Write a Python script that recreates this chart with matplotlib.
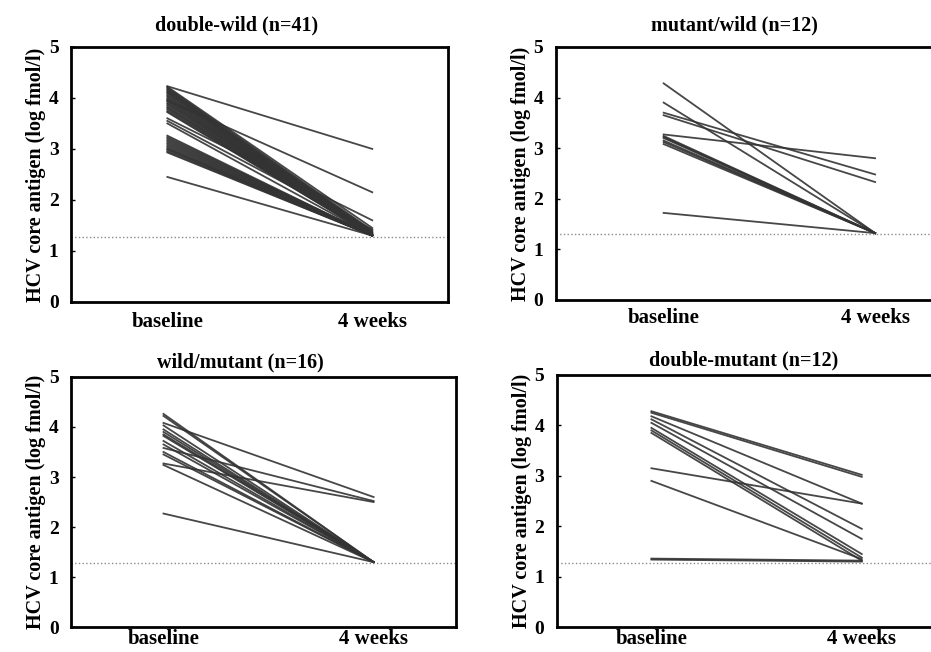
import matplotlib
matplotlib.use("Agg")
import matplotlib.pyplot as plt

plt.rcParams['font.family'] = ['Liberation Serif', 'DejaVu Serif']
plt.rcParams['font.weight'] = 'bold'

# 측정 시점
time_labels = ['baseline', '4 weeks']

# double-wild (n=41)
dw_title = 'double-wild (n=41)'
dw_base = [4.23, 4.22, 4.20, 4.18, 4.16, 4.14, 4.12, 4.10, 4.08, 4.05,
           4.03, 4.00, 3.98, 3.95, 3.93, 3.90, 3.88, 3.85, 3.82, 3.80,
           3.77, 3.74, 3.72, 3.60, 3.55, 3.50, 3.26, 3.23, 3.20, 3.17,
           3.14, 3.11, 3.08, 3.05, 3.02, 3.00, 2.98, 2.95, 2.93, 2.45, 3.95]
dw_4wk = [3.00, 1.45, 1.40, 1.38, 1.36, 1.35, 1.34, 1.33, 1.32, 1.32,
          1.31, 1.31, 1.30, 1.30, 1.30, 1.30, 1.30, 1.30, 1.30, 1.30,
          1.30, 1.30, 1.30, 1.60, 1.42, 1.30, 1.30, 1.30, 1.30, 1.30,
          1.30, 1.30, 1.30, 1.30, 1.30, 1.30, 1.30, 1.30, 1.30, 1.30, 2.15]

# mutant/wild (n=12)
mw_title = 'mutant/wild (n=12)'
mw_base = [4.28, 3.90, 3.70, 3.65, 3.27, 3.24, 3.22, 3.20, 3.15, 3.12, 3.08, 1.72]
mw_4wk = [1.32, 1.32, 2.48, 2.33, 2.80, 1.32, 1.32, 1.32, 1.32, 1.32, 1.32, 1.32]

# wild/mutant (n=16)
wm_title = 'wild/mutant (n=16)'
wm_base = [4.26, 4.22, 4.08, 4.03, 3.95, 3.90, 3.85, 3.82, 3.72, 3.65,
           3.58, 3.50, 3.45, 3.27, 3.24, 2.27]
wm_4wk = [1.30, 1.30, 2.60, 1.30, 1.30, 1.30, 1.30, 1.30, 1.30, 1.30,
          2.52, 1.30, 1.30, 2.50, 1.30, 1.30]

# double-mutant (n=12)
dm_title = 'double-mutant (n=12)'
dm_base = [4.28, 4.25, 4.18, 4.12, 4.05, 3.95, 3.90, 3.85, 3.15, 2.90, 1.36, 1.34]
dm_4wk = [3.02, 2.98, 2.45, 1.95, 1.75, 1.45, 1.38, 1.32, 2.45, 1.35, 1.32, 1.30]

# 검출 한계
detect_limit = [1.28, 1.30, 1.28, 1.27]

# (제목, baseline, 4주, 위치, x범위, 제목 x, 제목 pad, x라벨 pad)
panels = [
    (dw_title, dw_base, dw_4wk, [0.0763, 0.537, 0.405, 0.391], (-0.47, 1.37), 0.44, 12, 7),
    (mw_title, mw_base, mw_4wk, [0.597, 0.540, 0.427, 0.388], (-0.51, 1.37), 0.45, 12, 6),
    (wm_title, wm_base, wm_4wk, [0.0763, 0.038, 0.413, 0.384], (-0.44, 1.39), 0.44, 7, 1),
    (dm_title, dm_base, dm_4wk, [0.598, 0.038, 0.418, 0.387], (-0.45, 1.40), 0.48, 7, 1),
]

fig = plt.figure(figsize=(9.31, 6.52), dpi=100)

for i, (title, base, wk4, rect, xlim, tx, tpad, xpad) in enumerate(panels):
    ax = fig.add_axes(rect)
    for b, w in zip(base, wk4):
        ax.plot([0, 1], [b, w], color='#333333', lw=1.3, alpha=0.9)
    ax.axhline(detect_limit[i], color='#8a8a8a', lw=1.0, ls=':')
    ax.set_xlim(*xlim)
    ax.set_ylim(0, 5)
    ax.set_xticks([0, 1])
    ax.set_xticklabels(time_labels, fontsize=15, fontweight='bold')
    ax.set_yticks([0, 1, 2, 3, 4, 5])
    ax.set_yticklabels(['0', '1', '2', '3', '4', '5'], fontsize=14, fontweight='bold')
    ax.tick_params(axis='y', direction='in', length=3, width=1, pad=9)
    ax.tick_params(axis='x', length=0, pad=xpad)
    for sp in ax.spines.values():
        sp.set_linewidth(2)
    ax.set_ylabel('HCV core antigen (log fmol/l)', fontsize=14.5, fontweight='bold', labelpad=2)
    ax.set_title(title, fontsize=14.5, fontweight='bold', x=tx, pad=tpad)

plt.savefig('out.png', dpi=100)
plt.close()
